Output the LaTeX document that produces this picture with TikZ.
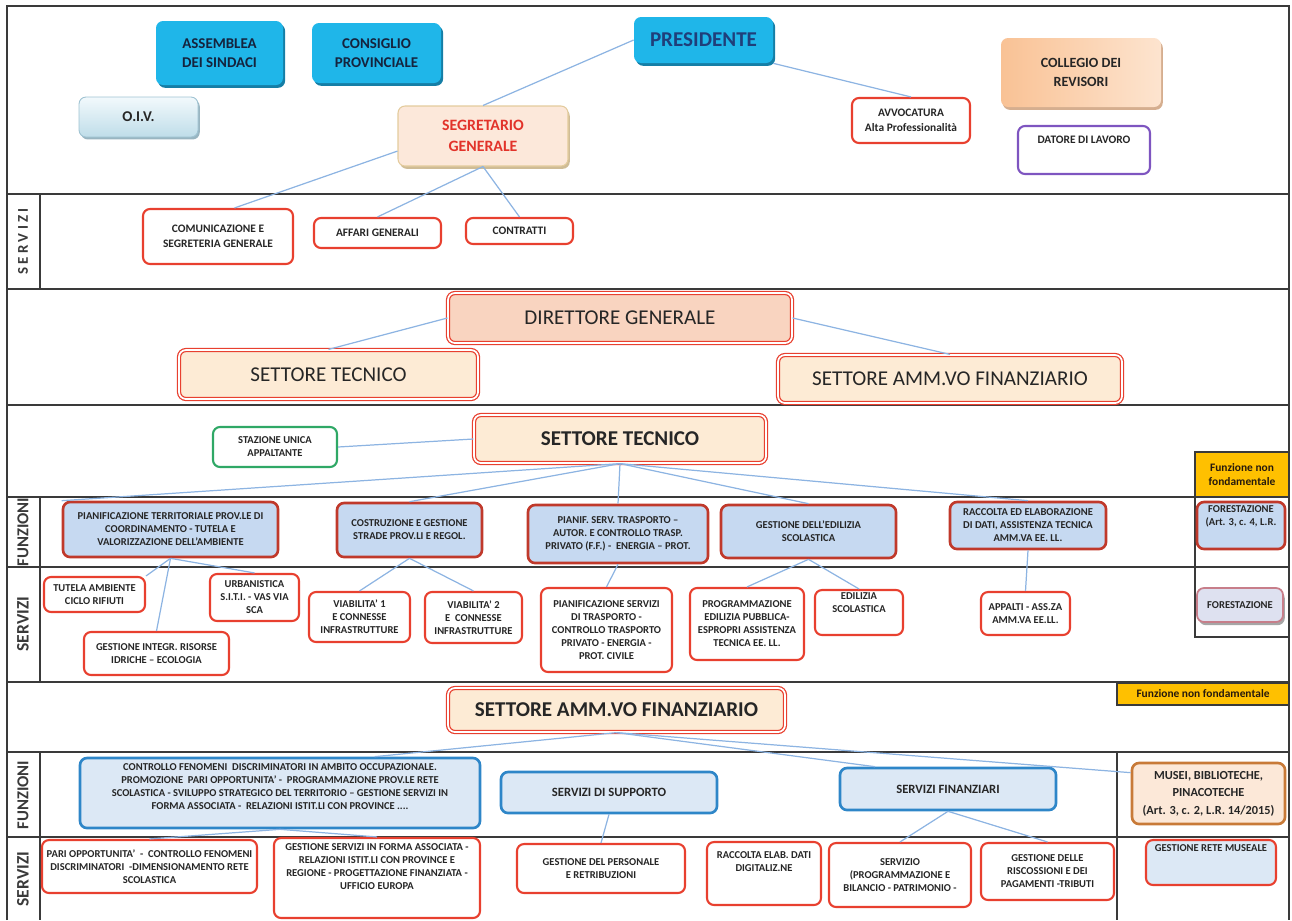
\documentclass[tikz,border=0pt]{standalone}
\usepackage{fontspec}
\setmainfont{Carlito}
\usetikzlibrary{shadows}
\definecolor{cyanfill}{HTML}{1FB6E9}
\definecolor{cyanshade}{HTML}{157EA6}
\definecolor{navytext}{HTML}{15233D}
\definecolor{prestext}{HTML}{1F3F7A}
\definecolor{oivtop}{HTML}{F2F9FC}
\definecolor{oivbottom}{HTML}{BFDDE9}
\definecolor{oivline}{HTML}{9FC3D2}
\definecolor{segrfill}{HTML}{FCE8DA}
\definecolor{segrline}{HTML}{E3CB9C}
\definecolor{segrtext}{HTML}{E2332A}
\definecolor{colleft}{HTML}{F9C295}
\definecolor{colright}{HTML}{FDE4CF}
\definecolor{redline}{HTML}{E8402F}
\definecolor{purpleline}{HTML}{7E55C0}
\definecolor{dgfill}{HTML}{F9D4C0}
\definecolor{settfill}{HTML}{FDEBD5}
\definecolor{funzfill}{HTML}{C6D9F1}
\definecolor{funzline}{HTML}{C0392B}
\definecolor{greenline}{HTML}{2FA866}
\definecolor{ammfill}{HTML}{DCE8F5}
\definecolor{ammline}{HTML}{2E86C8}
\definecolor{musfill}{HTML}{FCE8D8}
\definecolor{musline}{HTML}{C87A38}
\definecolor{yellowfill}{HTML}{FFC000}
\definecolor{forfill}{HTML}{DEE1F0}
\definecolor{forline}{HTML}{C77E8A}
\definecolor{linkblue}{HTML}{8DB4E2}
\definecolor{gridgray}{HTML}{3A3A3A}
\definecolor{boxtext}{HTML}{262626}
\newcommand{\smallfont}{\fontsize{6.5}{8.5}\selectfont\bfseries}
\newcommand{\tinyfont}{\fontsize{6}{7.4}\selectfont\bfseries}
\newcommand{\bigfont}{\fontsize{12}{14}\selectfont}

\begin{document}
\begin{tikzpicture}[x=0.2mm, y=-0.2mm,
	box/.style={rounded corners=4pt, align=center, inner sep=1pt, text=boxtext, font=\smallfont},
	cyanbox/.style={box, fill=cyanfill, text=navytext, drop shadow={shadow xshift=1.2pt, shadow yshift=-1.6pt, fill=cyanshade, opacity=1}},
	redbox/.style={box, draw=redline, line width=1.2pt, fill=white},
	settbox/.style={box, draw=redline, line width=0.7pt, double=white, double distance=1pt, fill=settfill, font=\bigfont, text=black!85},
	funzbox/.style={box, draw=funzline, line width=1.5pt, fill=funzfill},
	ammbox/.style={box, draw=ammline, line width=1.5pt, fill=ammfill},
	yellowbox/.style={draw=gridgray, line width=0.8pt, fill=yellowfill, align=center, inner sep=1pt, text=black!80!brown, font=\smallfont},
	sidelabel/.style={rotate=90, text=gridgray, font=\fontsize{10}{12}\selectfont\bfseries},
	grid/.style={draw=gridgray, line width=0.9pt},
	link/.style={draw=linkblue, line width=0.7pt}
]
	\useasboundingbox (0,0) rectangle (1292,920);

	\draw[grid] (7,920) -- (7,6) -- (1289,6) -- (1289,920);
	\foreach \y in {194,289,405,497,567,682,752,837}
		\draw[grid] (7,\y) -- (1289,\y);
	\draw[grid] (40,194) -- (40,289);
	\draw[grid] (40,497) -- (40,682);
	\draw[grid] (40,752) -- (40,920);
	\draw[grid] (1195,452) -- (1195,637) -- (1289,637);
	\draw[grid] (1117,752) -- (1117,920);

	\node[sidelabel, font=\fontsize{8.5}{10}\selectfont\bfseries] (lserv) at (23,241.5) {S E R V I Z I};
	\node[sidelabel, font=\fontsize{9.5}{11}\selectfont\bfseries] (lfunz1) at (23,532) {FUNZIONI};
	\node[sidelabel] (lserv1) at (23,624) {SERVIZI};
	\node[sidelabel, font=\fontsize{9.5}{11}\selectfont\bfseries] (lfunz2) at (23,795) {FUNZIONI};
	\node[sidelabel] (lserv2) at (23,879) {SERVIZI};

	\node[cyanbox, font=\fontsize{8.5}{11}\selectfont\bfseries, minimum width=25.4mm, minimum height=12.8mm] (asm) at (219.5,53) {ASSEMBLEA\\DEI SINDACI};
	\node[cyanbox, font=\fontsize{8.5}{11}\selectfont\bfseries, minimum width=25.8mm, minimum height=12mm] (cons) at (376.5,53) {CONSIGLIO\\PROVINCIALE};
	\node[cyanbox, font=\fontsize{12}{14}\selectfont\bfseries, text=prestext, minimum width=27.8mm, minimum height=9.2mm] (pres) at (703.5,40) {PRESIDENTE};
	\node[box, top color=oivtop, bottom color=oivbottom, draw=oivline, line width=0.5pt, drop shadow={shadow xshift=1pt, shadow yshift=-1.4pt, fill=oivline!80!gray, opacity=1}, font=\fontsize{8.5}{10}\selectfont\bfseries, minimum width=23.8mm, minimum height=8mm] (oiv) at (138.5,117) {O.I.V.};
	\node[box, fill=segrfill, draw=segrline, line width=0.6pt, drop shadow={shadow xshift=1pt, shadow yshift=-1.6pt, fill=segrline!80!gray, opacity=1}, text=segrtext, font=\fontsize{9}{12}\selectfont\bfseries, minimum width=34mm, minimum height=12mm] (segr) at (483,136) {SEGRETARIO\\GENERALE};
	\node[redbox, minimum width=23.6mm, minimum height=9mm] (avv) at (911,120.5) {AVVOCATURA\\Alta Professionalità};
	\node[box, left color=colleft, right color=colright, drop shadow={shadow xshift=1pt, shadow yshift=-1.6pt, fill=colleft!70!gray, opacity=1}, font=\fontsize{8}{11}\selectfont\bfseries, minimum width=32mm, minimum height=13.8mm] (col) at (1081,72.5) {COLLEGIO DEI\\REVISORI};
	\node[redbox, draw=purpleline, text depth=12pt, minimum width=26.4mm, minimum height=9.6mm] (dat) at (1084,150) {DATORE DI LAVORO};

	\node[redbox, minimum width=30mm, minimum height=11mm] (com) at (218,236.5) {COMUNICAZIONE E\\SEGRETERIA GENERALE};
	\node[redbox, minimum width=25.4mm, minimum height=6mm] (aff) at (377.5,233) {AFFARI GENERALI};
	\node[redbox, minimum width=21.4mm, minimum height=5.2mm] (con) at (519.5,231) {CONTRATTI};

	\draw[link] (pres.west) -- (segr.north);
	\draw[link] (pres.south east) -- (avv.north);
	\draw[link] (segr.190) -- (com.60);
	\draw[link] (segr.south) -- (aff.north);
	\draw[link] (segr.south) -- (con.north);

	\node[settbox, fill=dgfill, minimum width=68.8mm, minimum height=10mm] (dg) at (620,318) {DIRETTORE GENERALE};
	\node[settbox, minimum width=59.8mm, minimum height=9.8mm] (st1) at (328.5,374.5) {SETTORE TECNICO};
	\node[settbox, minimum width=68.8mm, minimum height=9.6mm] (saf1) at (950,379) {SETTORE AMM.VO FINANZIARIO};
	\draw[link] (dg.west) -- (st1.north);
	\draw[link] (dg.east) -- (saf1.north);

	\node[settbox, font=\bigfont\bfseries, minimum width=58.4mm, minimum height=9.6mm] (st2) at (620,439) {SETTORE TECNICO};
	\node[redbox, draw=greenline, font=\tinyfont, minimum width=24.8mm, minimum height=8mm] (sua) at (275,447) {STAZIONE UNICA\\APPALTANTE};
	\node[yellowbox, minimum width=18.8mm, minimum height=9mm] (yel1) at (1242,474.5) {Funzione non\\fondamentale};

	\node[funzbox, font=\tinyfont, minimum width=43mm, minimum height=11mm] (f1) at (170.5,529.5) {PIANIFICAZIONE TERRITORIALE PROV.LE DI\\COORDINAMENTO - TUTELA E\\VALORIZZAZIONE DELL'AMBIENTE};
	\node[funzbox, font=\tinyfont, minimum width=29mm, minimum height=10.8mm] (f2) at (409.5,530) {COSTRUZIONE E GESTIONE\\STRADE PROV.LI E REGOL.};
	\node[funzbox, font=\tinyfont, minimum width=36mm, minimum height=11.6mm] (f3) at (618,534) {PIANIF. SERV. TRASPORTO --\\AUTOR. E CONTROLLO TRASP.\\PRIVATO (F.F.) - \ ENERGIA -- PROT.};
	\node[funzbox, font=\tinyfont, minimum width=35mm, minimum height=10.6mm] (f4) at (808.5,531.5) {GESTIONE DELL'EDILIZIA\\SCOLASTICA};
	\node[funzbox, font=\tinyfont, minimum width=31.2mm, minimum height=9.4mm] (f5) at (1028,525.5) {RACCOLTA ED ELABORAZIONE\\DI DATI, ASSISTENZA TECNICA\\AMM.VA EE. LL.};
	\node[funzbox, font=\tinyfont, minimum width=17.6mm, minimum height=9.4mm] (f6) at (1241,525.5) {FORESTAZIONE\\(Art. 3, c. 4, L.R.\\[4pt]~};

	\node[redbox, font=\tinyfont, minimum width=20.2mm, minimum height=7mm] (tut) at (94.5,594.5) {TUTELA AMBIENTE\\CICLO RIFIUTI};
	\node[redbox, font=\tinyfont, minimum width=17.8mm, minimum height=9.4mm] (urb) at (254.5,597.5) {URBANISTICA\\S.I.T.I. - VAS VIA\\SCA};
	\node[redbox, font=\tinyfont, minimum width=29mm, minimum height=8.6mm] (gir) at (156.5,653.5) {GESTIONE INTEGR. RISORSE\\IDRICHE -- ECOLOGIA};
	\node[redbox, font=\tinyfont, minimum width=20.2mm, minimum height=10mm] (v1) at (359.5,617) {VIABILITA' 1\\E CONNESSE\\INFRASTRUTTURE};
	\node[redbox, font=\tinyfont, minimum width=19.4mm, minimum height=10.2mm] (v2) at (473.5,617.5) {VIABILITA' 2\\E \ CONNESSE\\INFRASTRUTTURE};
	\node[redbox, font=\tinyfont, minimum width=26.2mm, minimum height=16.8mm] (ps) at (606.5,630) {PIANIFICAZIONE SERVIZI\\DI TRASPORTO -\\CONTROLLO TRASPORTO\\PRIVATO - ENERGIA -\\PROT. CIVILE};
	\node[redbox, font=\tinyfont, minimum width=22.8mm, minimum height=14.4mm] (prog) at (747,624) {PROGRAMMAZIONE\\EDILIZIA PUBBLICA-\\ESPROPRI ASSISTENZA\\TECNICA EE. LL.};
	\node[redbox, font=\tinyfont, minimum width=17.6mm, minimum height=9mm] (edi) at (859,612.5) {EDILIZIA\\SCOLASTICA\\[4pt]~};
	\node[redbox, font=\tinyfont, minimum width=17.8mm, minimum height=8.6mm] (app) at (1025.5,613.5) {APPALTI - ASS.ZA\\AMM.VA EE.LL.};
	\node[box, fill=forfill, draw=forline, line width=1pt, font=\tinyfont, drop shadow={shadow xshift=1pt, shadow yshift=-1.8pt, fill=gray!70, opacity=1}, minimum width=17.2mm, minimum height=6.8mm] (fs) at (1240,605) {FORESTAZIONE};

	\draw[link] (sua.east) -- (st2.west);
	\foreach \f/\a in {f1/north west, f2/north, f3/north, f4/north, f5/north}
		\draw[link] (st2.south) -- (\f.\a);
	\draw[link] (f1.south) -- (tut.north east);
	\draw[link] (f1.south) -- (urb.north);
	\draw[link] (f1.south) -- (gir.north);
	\draw[link] (f2.south) -- (v1.north);
	\draw[link] (f2.south) -- (v2.north);
	\draw[link] (f3.south) -- (ps.north);
	\draw[link] (f4.south) -- (prog.north);
	\draw[link] (f4.south) -- (edi.north);
	\draw[link] (f5.south) -- (app.north);

	\node[settbox, font=\bigfont\bfseries, minimum width=67.4mm, minimum height=8.8mm] (saf2) at (616.5,710) {SETTORE AMM.VO FINANZIARIO};
	\node[yellowbox, minimum width=34.4mm, minimum height=4.4mm] (yel2) at (1203,694) {Funzione non fondamentale};

	\node[ammbox, font=\fontsize{6}{7.3}\selectfont\bfseries, minimum width=80mm, minimum height=14mm] (cf) at (280,793) {CONTROLLO FENOMENI \ DISCRIMINATORI IN AMBITO OCCUPAZIONALE.\\PROMOZIONE \ PARI OPPORTUNITA' - \ PROGRAMMAZIONE PROV.LE RETE\\SCOLASTICA - SVILUPPO STRATEGICO DEL TERRITORIO -- GESTIONE SERVIZI IN\\FORMA ASSOCIATA - \ RELAZIONI ISTIT.LI CON PROVINCE ....\\~};
	\node[ammbox, font=\fontsize{7.2}{9}\selectfont\bfseries, minimum width=43.2mm, minimum height=8.2mm] (sup) at (609,792.5) {SERVIZI DI SUPPORTO};
	\node[ammbox, font=\fontsize{7.2}{9}\selectfont\bfseries, minimum width=43.2mm, minimum height=8.4mm] (sf) at (948,789) {SERVIZI FINANZIARI};
	\node[box, fill=musfill, draw=musline, line width=1.5pt, font=\fontsize{7}{10}\selectfont\bfseries, minimum width=30.6mm, minimum height=12.2mm] (mus) at (1208.5,793.5) {MUSEI, BIBLIOTECHE,\\PINACOTECHE\\(Art. 3, c. 2, L.R. 14/2015)};

	\node[redbox, font=\tinyfont, minimum width=43mm, minimum height=10.6mm] (po) at (149.5,866.5) {PARI OPPORTUNITA' \ - \ CONTROLLO FENOMENI\\DISCRIMINATORI \ -DIMENSIONAMENTO RETE\\SCOLASTICA};
	\node[redbox, font=\tinyfont, minimum width=41.2mm, minimum height=16mm] (gs) at (377,878) {GESTIONE SERVIZI IN FORMA ASSOCIATA -\\RELAZIONI ISTIT.LI CON PROVINCE E\\REGIONE - PROGETTAZIONE FINANZIATA -\\UFFICIO EUROPA\\[6pt]~};
	\node[redbox, font=\tinyfont, minimum width=33.6mm, minimum height=9.8mm] (per) at (601,868.5) {GESTIONE DEL PERSONALE\\E RETRIBUZIONI};
	\node[redbox, font=\tinyfont, minimum width=22.8mm, minimum height=12.6mm] (rd) at (764,873.5) {RACCOLTA ELAB. DATI\\DIGITALIZ.NE\\[6pt]~};
	\node[redbox, font=\tinyfont, minimum width=28.4mm, minimum height=12.8mm] (serv) at (900,875) {SERVIZIO\\(PROGRAMMAZIONE E\\BILANCIO - PATRIMONIO -};
	\node[redbox, font=\tinyfont, minimum width=26.6mm, minimum height=11.4mm] (ris) at (1047.5,871.5) {GESTIONE DELLE\\RISCOSSIONI E DEI\\PAGAMENTI -TRIBUTI};
	\node[redbox, fill=ammfill, font=\tinyfont, minimum width=26mm, minimum height=9mm] (grm) at (1211,862.5) {GESTIONE RETE MUSEALE\\[9pt]~};

	\draw[link] (saf2.south) -- (cf.21);
	\draw[link] (saf2.south) -- (sf.163);
	\draw[link] (saf2.south) -- (mus.165);
	\draw[link] (cf.south) -- (po.north);
	\draw[link] (cf.south) -- (gs.north);
	\draw[link] (sup.south) -- (per.north);
	\draw[link] (sf.south) -- (serv.north);
	\draw[link] (sf.south) -- (ris.north);
\end{tikzpicture}
\end{document}
